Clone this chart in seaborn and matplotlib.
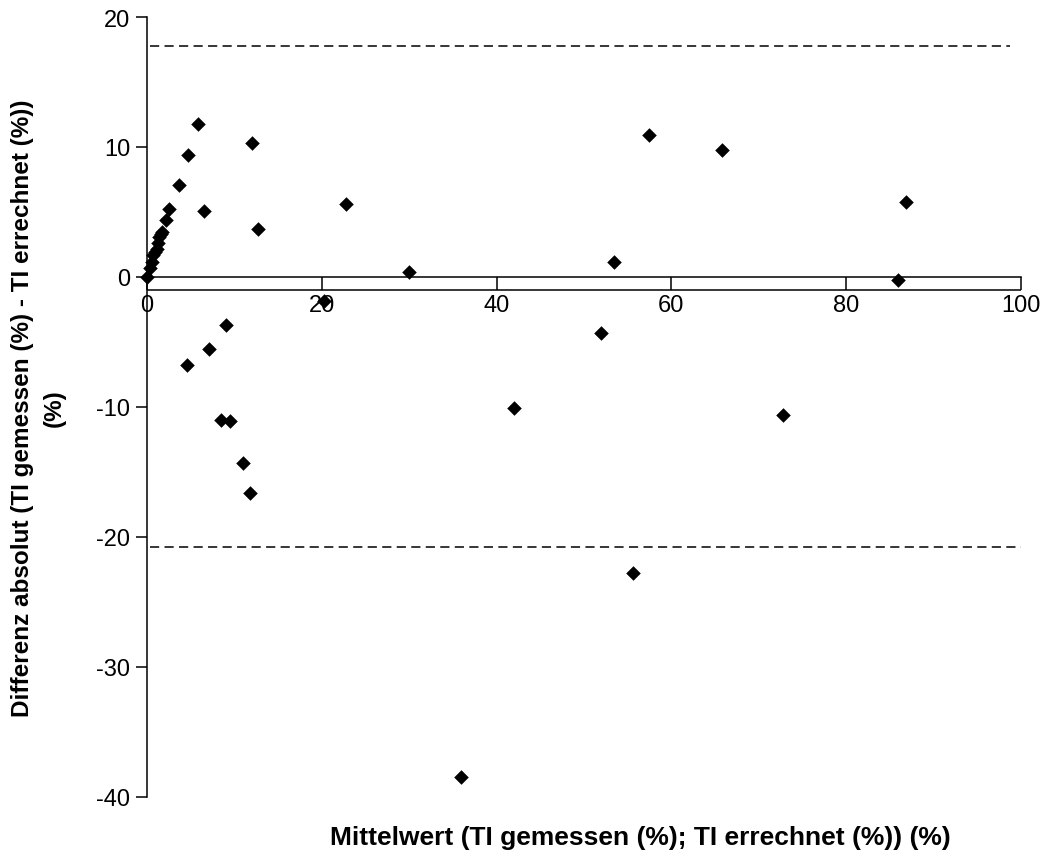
import numpy as np
import pandas as pd
import matplotlib
matplotlib.use("Agg")
import matplotlib.pyplot as plt
import seaborn as sns

# Bland-Altman data: mean of measured/calculated TI vs. absolute difference
mean_vals = [0.0, 0.3, 0.54, 0.72, 0.9, 1.1, 1.25, 1.4, 1.55, 1.75, 2.14, 2.55,
             3.66, 4.73, 5.8, 6.5, 12.05, 12.7,
             22.8, 30.0, 20.25, 53.4, 57.4, 65.8, 86.8, 85.9,
             51.9, 42.0, 72.8, 55.6, 35.9,
             4.54, 7.09, 9.04, 8.43, 9.5, 11.0, 11.8]
diff_vals = [0.0, 0.7, 1.15, 1.67, 1.9, 2.18, 2.6, 3.08, 3.3, 3.46, 4.4, 5.26,
             7.1, 9.4, 11.75, 5.05, 10.3, 3.72,
             5.6, 0.38, -1.85, 1.15, 10.9, 9.77, 5.77, -0.23,
             -4.3, -10.08, -10.6, -22.77, -38.46,
             -6.74, -5.56, -3.72, -10.97, -11.1, -14.3, -16.6]

mean_diff = -1.0
upper_loa = 17.8
lower_loa = -20.8

y_ticks = [-40, -30, -20, -10, 0, 10, 20]
x_ticks = [0, 20, 40, 60, 80, 100]

df = pd.DataFrame({"mean": mean_vals, "diff": diff_vals})

sns.set_style("white")
plt.rcParams["font.family"] = ["Liberation Sans", "DejaVu Sans"]
plt.rcParams["axes.unicode_minus"] = False
plt.rcParams["text.color"] = "black"
plt.rcParams["xtick.color"] = "black"
plt.rcParams["ytick.color"] = "black"

fig = plt.figure(figsize=(10.47, 8.62), dpi=100)
ax = fig.add_axes([147 / 1047, 1 - 798 / 862, (1021 - 147) / 1047, (798 - 18) / 862])

# limits of agreement and mean difference
ax.hlines(upper_loa, 0.3, 98.7, colors="black", linestyles=(0, (6, 3.5)), lw=1.1)
ax.hlines(lower_loa, 0.3, 100, colors="black", linestyles=(0, (6, 3.5)), lw=1.1)
ax.hlines(mean_diff, 0, 100, colors="black", lw=1.1)

sns.scatterplot(data=df, x="mean", y="diff", marker="D", color="black",
                s=55, edgecolor="black", linewidth=0, ax=ax, zorder=3, clip_on=False)

ax.set_xlim(0, 100)
ax.set_ylim(-40, 20)
ax.set_xticks(x_ticks)
ax.set_yticks(y_ticks)

ax.spines["left"].set_position(("data", 0))
ax.spines["bottom"].set_position(("data", 0))
ax.spines["right"].set_visible(False)
ax.spines["top"].set_visible(False)
for sp in ["left", "bottom"]:
    ax.spines[sp].set_color("black")
    ax.spines[sp].set_linewidth(1.1)

ax.tick_params(axis="x", direction="out", length=9, width=1.1, labelsize=17, pad=3,
               bottom=True, colors="black")
ax.tick_params(axis="y", direction="out", length=8, width=1.1, labelsize=17, pad=4,
               left=True, colors="black")

ax.set_xlabel("")
ax.set_ylabel("")

fig.text(640 / 1047, 1 - 838 / 862, "Mittelwert (TI gemessen (%); TI errechnet (%)) (%)",
         ha="center", va="center", fontsize=19, fontweight="bold", color="black")
fig.text(38.5 / 1047, 1 - 408 / 862, "Differenz absolut (TI gemessen (%) - TI errechnet (%))\n(%)",
         ha="center", va="center", rotation=90, fontsize=17.5, fontweight="bold",
         multialignment="center", linespacing=1.5, color="black")

fig.savefig("out.png", dpi=100)
